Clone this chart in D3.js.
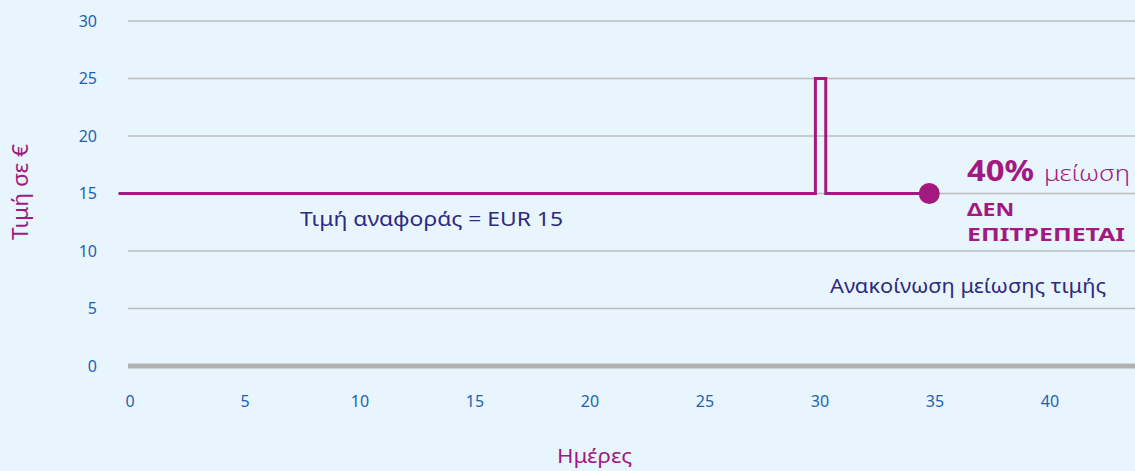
<!DOCTYPE html>
<html>
<head>
<meta charset="utf-8">
<script src="https://cdn.jsdelivr.net/npm/d3@7"></script>
<style>
  body { margin: 0; background: #e9f5fd; }
  svg { display: block; font-family: "Noto Sans", sans-serif; }
</style>
</head>
<body>
<svg id="chart" width="1135" height="471"></svg>
<script>
// price path (days, price in EUR)
const days   = [-0.5, 29.8, 29.8, 30.25, 30.25, 34.75];
const prices = [15,   15,   25,   25,    15,    15];
const yTicks = [0, 5, 10, 15, 20, 25, 30];
const xTicks = [0, 5, 10, 15, 20, 25, 30, 35, 40];
const marker = {day: 34.75, price: 15};

const svg = d3.select("#chart");
const W = 1135, H = 471;

const x = d3.scaleLinear().domain([0, 40]).range([130, 1050]);
const y = d3.scaleLinear().domain([0, 30]).range([366, 21]);

// gridlines
svg.append("g").selectAll("line")
    .data(yTicks.filter(d => d > 0))
    .join("line")
    .attr("x1", 128).attr("x2", W)
    .attr("y1", d => y(d)).attr("y2", d => y(d))
    .attr("stroke", "#bcbcbc").attr("stroke-width", 1.5);

// zero line
svg.append("line")
    .attr("x1", 128).attr("x2", W)
    .attr("y1", y(0)).attr("y2", y(0))
    .attr("stroke", "#b1b1b1").attr("stroke-width", 5);

// y tick labels
svg.append("g").selectAll("text")
    .data(yTicks)
    .join("text")
    .attr("x", 97).attr("y", d => y(d))
    .attr("dy", "0.35em")
    .attr("text-anchor", "end")
    .attr("font-size", 16)
    .attr("fill", "#1d62b0")
    .text(d => d);

// x tick labels
svg.append("g").selectAll("text")
    .data(xTicks)
    .join("text")
    .attr("x", d => x(d)).attr("y", 407)
    .attr("text-anchor", "middle")
    .attr("font-size", 16)
    .attr("fill", "#1d62b0")
    .text(d => d);

// axis titles
svg.append("text")
    .attr("x", 557).attr("y", 463)
    .attr("font-size", 20)
    .attr("textLength", 75).attr("lengthAdjust", "spacingAndGlyphs")
    .attr("fill", "#a3197f")
    .text("Ημέρες");

svg.append("text")
    .attr("transform", "translate(28,240) rotate(-90)")
    .attr("font-size", 21)
    .attr("textLength", 96).attr("lengthAdjust", "spacingAndGlyphs")
    .attr("fill", "#a3197f")
    .text("Τιμή σε €");

// price line
const line = d3.line()
    .x((d, i) => x(days[i]))
    .y(d => y(d));

svg.append("path")
    .datum(prices)
    .attr("d", line)
    .attr("fill", "none")
    .attr("stroke", "#a3197f")
    .attr("stroke-width", 3);

svg.append("circle")
    .attr("cx", x(marker.day)).attr("cy", y(marker.price))
    .attr("r", 10.5)
    .attr("fill", "#a3197f");

// annotations
svg.append("text")
    .attr("x", 300).attr("y", 226)
    .attr("font-size", 20)
    .attr("textLength", 263).attr("lengthAdjust", "spacingAndGlyphs")
    .attr("fill", "#2f2a7e")
    .text("Τιμή αναφοράς = EUR 15");

svg.append("text")
    .attr("x", 967).attr("y", 181)
    .attr("font-size", 28).attr("font-weight", "bold")
    .attr("textLength", 67).attr("lengthAdjust", "spacingAndGlyphs")
    .attr("fill", "#a3197f")
    .text("40%");

svg.append("text")
    .attr("x", 1044).attr("y", 181)
    .attr("font-size", 21).attr("font-weight", 300)
    .attr("textLength", 86).attr("lengthAdjust", "spacingAndGlyphs")
    .attr("fill", "#a3197f")
    .text("μείωση");

svg.append("text")
    .attr("x", 967).attr("y", 216)
    .attr("font-size", 18).attr("font-weight", "bold")
    .attr("textLength", 47).attr("lengthAdjust", "spacingAndGlyphs")
    .attr("fill", "#a3197f")
    .text("ΔΕΝ");

svg.append("text")
    .attr("x", 967).attr("y", 241)
    .attr("font-size", 18).attr("font-weight", "bold")
    .attr("textLength", 158).attr("lengthAdjust", "spacingAndGlyphs")
    .attr("fill", "#a3197f")
    .text("ΕΠΙΤΡΕΠΕΤΑΙ");

svg.append("text")
    .attr("x", 830).attr("y", 293)
    .attr("font-size", 20)
    .attr("textLength", 276).attr("lengthAdjust", "spacingAndGlyphs")
    .attr("fill", "#2f2a7e")
    .text("Ανακοίνωση μείωσης τιμής");
</script>
</body>
</html>
